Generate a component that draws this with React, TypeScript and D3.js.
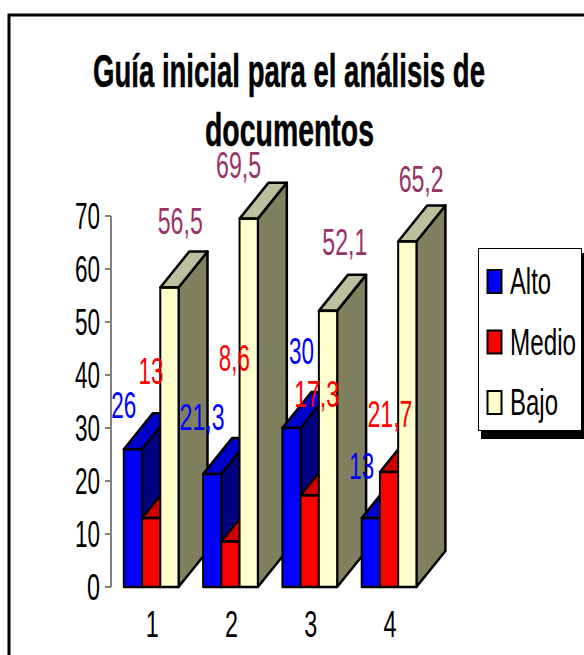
import React from "react";
import * as d3 from "d3";

const categories = ["1", "2", "3", "4"];
const seriesNames = ["Alto", "Medio", "Bajo"];
const alto = [26, 21.3, 30, 13];
const medio = [13, 8.6, 17.3, 21.7];
const bajo = [56.5, 69.5, 52.1, 65.2];
const yTicks = [0, 10, 20, 30, 40, 50, 60, 70];
const titleLines = ["Guía inicial para el análisis de", "documentos"];

const frontColors = ["#0000FF", "#FF0000", "#FFFFCC"];
const topColors = ["#0000CC", "#CC0000", "#BFBF9F"];
const sideColors = ["#000080", "#800000", "#80805F"];
const labelColors = ["#0000FF", "#FF0000", "#993366"];

// label placement: offset of the label centre/baseline from the bar's front top-left corner
const labelDx = [[0, -1, 19, 0], [9, 13, 16, 10], [20, -1, 26, 23]];
const labelDy = [[-31, -44, -64, -39], [-134, -170, -88, -45], [-54, -41, -56, -49]];

const FONT = "'Liberation Sans', Arial, sans-serif";
const DX = 29;
const DY = 36;

const fmt = (v: number) => String(v).replace(".", ",");

function Txt(p: { x: number; y: number; len: number; size?: number; fill?: string; bold?: boolean; children: string }) {
  return (
    <text x={p.x} y={p.y} textLength={p.len} lengthAdjust="spacingAndGlyphs" fontSize={p.size ?? 36}
      fontFamily={FONT} fontWeight={p.bold ? "bold" : "normal"} fill={p.fill ?? "#000"}
      stroke={p.bold ? "#000" : "none"} strokeWidth={p.bold ? 0.5 : 0}>
      {p.children}
    </text>
  );
}

export default function App() {
  const series = [alto, medio, bajo];
  const y = d3.scaleLinear().domain([0, 70]).range([587, 216]);
  const x0 = d3.scaleBand<string>().domain(categories).range([111.5, 428.7]).paddingInner(0.31).paddingOuter(0.155);
  const x1 = d3.scaleBand<string>().domain(seriesNames).range([0, x0.bandwidth()]);
  const w = x1.bandwidth();

  const poly = (pts: [number, number][]) => (d3.line()(pts) ?? "") + "Z";

  const labelWidth = (s: string) => (s.length === 2 ? 25 : s.length === 3 ? 31 : 45);
  const tickLen = (s: string) => (s.length === 1 ? 13 : 25);

  return (
    <svg width={584} height={655} style={{ position: "absolute", left: 0, top: 0 }}>
      <rect width={584} height={655} fill="#fff" />
      <path d="M9,655V15H584" fill="none" stroke="#000" strokeWidth={3} />

      <g textAnchor="start">
        <Txt x={93} y={87} len={392} size={46} bold>{titleLines[0]}</Txt>
        <Txt x={205} y={146} len={169} size={46} bold>{titleLines[1]}</Txt>
      </g>

      {/* y axis */}
      <line x1={111} x2={111} y1={y(70)} y2={y(0)} stroke="#808080" strokeWidth={2} />
      {yTicks.map((t) => (
        <g key={t}>
          <line x1={105} x2={111} y1={y(t)} y2={y(t)} stroke="#808080" strokeWidth={2} />
          <Txt x={100 - tickLen(String(t))} y={y(t) + 12.5} len={tickLen(String(t))}>{String(t)}</Txt>
        </g>
      ))}

      {/* bars */}
      {categories.map((c, i) => (
        <g key={c}>
          {seriesNames.map((s, k) => {
            const l = (x0(c) ?? 0) + (x1(s) ?? 0);
            const r = l + w;
            const t = y(series[k][i]);
            const b = y(0);
            return (
              <g key={s} stroke="#000" strokeWidth={2.5} strokeLinejoin="round">
                <path d={poly([[r, t], [r + DX, t - DY], [r + DX, b - DY], [r, b]])} fill={sideColors[k]} />
                <path d={poly([[l, t], [l + DX, t - DY], [r + DX, t - DY], [r, t]])} fill={topColors[k]} />
                <path d={poly([[l, t], [r, t], [r, b], [l, b]])} fill={frontColors[k]} strokeWidth={2} />
                <line x1={l} x2={r} y1={t} y2={t} />
                <line x1={l} x2={r} y1={b} y2={b} />
              </g>
            );
          })}
        </g>
      ))}

      {/* x labels */}
      {categories.map((c) => (
        <Txt key={c} x={(x0(c) ?? 0) + x0.bandwidth() / 2 - 5.5} y={637} len={13}>{c}</Txt>
      ))}

      {/* data labels */}
      {categories.map((c, i) =>
        seriesNames.map((s, k) => {
          const txt = fmt(series[k][i]);
          const lw = labelWidth(txt);
          const l = (x0(c) ?? 0) + (x1(s) ?? 0);
          return (
            <Txt key={s + c} x={l + labelDx[k][i] - lw / 2} y={y(series[k][i]) + labelDy[k][i]} len={lw} fill={labelColors[k]}>
              {txt}
            </Txt>
          );
        })
      )}

      {/* legend */}
      <rect x={481} y={253} width={103} height={186} fill="#000" />
      <rect x={478.5} y={248.5} width={103} height={182} fill="#fff" stroke="#000" strokeWidth={1} />
      {seriesNames.map((s, k) => {
        const top = 270 + k * 60.5;
        const lens = [41, 66, 48];
        return (
          <g key={s}>
            <rect x={487.5} y={top} width={14} height={23} fill={frontColors[k]} stroke="#000" strokeWidth={2} />
            <Txt x={510} y={top + 24} len={lens[k]}>{s}</Txt>
          </g>
        );
      })}
    </svg>
  );
}
